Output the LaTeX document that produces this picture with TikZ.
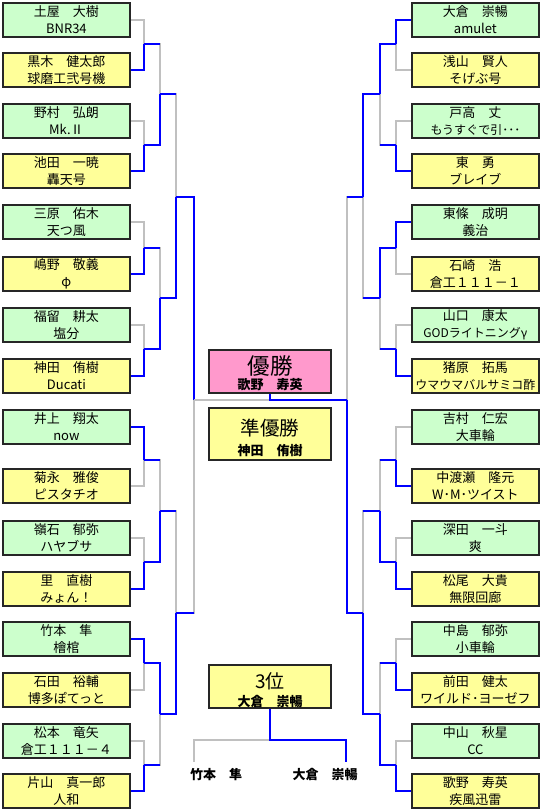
\documentclass[tikz,border=0pt]{standalone}
\usepackage{fontspec}
\setmainfont{Noto Sans CJK JP}
\usepackage{tikz}
\usetikzlibrary{positioning,calc,backgrounds}
\usepackage{xcolor}
\definecolor{boxgreen}{RGB}{204,255,204}
\definecolor{boxyellow}{RGB}{255,255,153}
\definecolor{boxpink}{RGB}{255,153,204}
\definecolor{linegray}{RGB}{192,192,192}
\definecolor{lineblue}{RGB}{0,0,255}
\newcommand{\longteam}[1]{{\fontsize{12}{17}\selectfont #1}}

\begin{document}
\begin{tikzpicture}[
    x=1pt, y=-1pt,
    entry/.style={rectangle, draw=black!85, line width=1.8pt, anchor=north west,
                  minimum width=127pt, minimum height=34pt, inner sep=0pt,
                  align=center, font=\fontsize{13}{17}\selectfont},
    podium/.style={rectangle, draw=black!85, line width=1.8pt, anchor=north,
                   minimum width=122pt, inner sep=0pt, align=center},
    win/.style={draw=lineblue, line width=2.4pt},
    lose/.style={draw=linegray, line width=2.4pt},
    pname/.style={font=\fontsize{13}{15}\selectfont\bfseries},
]
\useasboundingbox (0,0) rectangle (540,810);

% Left block
\foreach \n/\t/\p/\m/\c in {
    1/2/土屋　大樹/BNR34/boxgreen, 2/52/黒木　健太郎/球磨工弐号機/boxyellow,
    3/103/野村　弘朗/Mk.Ⅱ/boxgreen, 4/153/池田　一暁/轟天号/boxyellow,
    5/204/三原　佑木/天つ風/boxgreen, 6/256/嶋野　敬義/φ/boxyellow,
    7/307/福留　耕太/塩分/boxgreen, 8/358/神田　侑樹/Ducati/boxyellow,
    9/409/井上　翔太/now/boxgreen, 10/468/菊永　雅俊/ピスタチオ/boxyellow,
    11/520/嶺石　郁弥/ハヤブサ/boxgreen, 12/571/里　直樹/みょん！/boxyellow,
    13/621/竹本　隼/檜棺/boxgreen, 14/672/石田　裕輔/博多ぽてっと/boxyellow,
    15/723/松本　竜矢/倉工１１１－４/boxgreen, 16/773/片山　真一郎/人和/boxyellow} {
    \node[entry, fill=\c] (l\n) at (2,\t) {\p\\\m};
}

% Right block
\foreach \n/\t/\p/\m/\c in {
    1/2/大倉　崇暢/amulet/boxgreen, 2/52/浅山　賢人/そげぶ号/boxyellow,
    3/103/戸高　丈/\longteam{もうすぐで引･･･}/boxgreen, 4/153/東　勇/ブレイブ/boxyellow,
    5/204/東條　成明/義治/boxgreen, 6/256/石崎　浩/倉工１１１－１/boxyellow,
    7/307/山口　康太/\longteam{GODライトニングγ}/boxgreen,
    8/358/猪原　拓馬/\longteam{ウマウマバルサミコ酢}/boxyellow,
    9/409/吉村　仁宏/大車輪/boxgreen, 10/468/中渡瀬　隆元/W･M･ツイスト/boxyellow,
    11/520/深田　一斗/爽/boxgreen, 12/571/松尾　大貴/無限回廊/boxyellow,
    13/621/中島　郁弥/小車輪/boxgreen, 14/672/前田　健太/ワイルド･ヨーゼフ/boxyellow,
    15/723/中山　秋星/CC/boxgreen, 16/773/歌野　寿英/疾風迅雷/boxyellow} {
    \node[entry, fill=\c] (r\n) at (411,\t) {\p\\\m};
}

% Podium
\node[podium, fill=boxpink, minimum height=43pt] (yusho) at (270,349)
    {\fontsize{22.5}{22.5}\selectfont\rule{0pt}{22pt}優勝\\[1pt]\fontsize{13}{13}\selectfont\bfseries 歌野　寿英};
\node[podium, fill=boxyellow, minimum height=52pt] (junyusho) at (270,407)
    {\fontsize{19.5}{19.5}\selectfont\rule{0pt}{25pt}準優勝\\[6pt]\fontsize{13}{13}\selectfont\bfseries 神田　侑樹};
\node[podium, fill=boxyellow, minimum height=43pt] (sani) at (270,664)
    {\fontsize{19}{19}\selectfont\rule{0pt}{23pt}3位\\[4pt]\fontsize{13}{13}\selectfont\bfseries 大倉　崇暢};
\node[pname] (take) at (216,775) {竹本　隼};
\node[pname] (okura) at (325,775) {大倉　崇暢};

% Junctions
\foreach \k/\y in {1/44, 2/145, 3/248, 4/349, 5/460, 6/562, 7/663, 8/765} {
    \coordinate (la\k) at (144,\y);
    \coordinate (ra\k) at (396,\y);
}
\foreach \k/\y in {1/94, 2/298, 3/511, 4/714} {
    \coordinate (lb\k) at (160,\y);
    \coordinate (rb\k) at (380,\y);
}
\foreach \k/\y in {1/197, 2/613} {
    \coordinate (lc\k) at (176,\y);
    \coordinate (rc\k) at (363,\y);
}
\coordinate (ld) at (194,400);
\coordinate (rd) at (347,400);
\coordinate (m3) at (270,740);
\coordinate (t1) at (194,762);
\coordinate (t2) at (346,762);

\begin{scope}[on background layer, line cap=rect]
% first round
\foreach \c/\p in {l1/la1, l3/la2, l5/la3, l7/la4, l10/la5, l11/la6, l14/la7, l15/la8}
    \draw[lose] (\c.east) -| (\p);
\foreach \c/\p in {r2/ra1, r3/ra2, r6/ra3, r7/ra4, r9/ra5, r11/ra6, r13/ra7, r15/ra8}
    \draw[lose] (\c.west) -| (\p);
\foreach \c/\p in {l2/la1, l4/la2, l6/la3, l8/la4, l9/la5, l12/la6, l13/la7, l16/la8}
    \draw[win] (\c.east) -| (\p);
\foreach \c/\p in {r1/ra1, r4/ra2, r5/ra3, r8/ra4, r10/ra5, r12/ra6, r14/ra7, r16/ra8}
    \draw[win] (\c.west) -| (\p);

% later rounds
\foreach \c/\p in {la1/lb1, la3/lb2, la5/lb3, la8/lb4, lb1/lc1, lb3/lc2, lc2/ld,
                   ra2/rb1, ra4/rb2, ra5/rb3, ra7/rb4, rb2/rc1, rb3/rc2, rc1/rd} {
    \draw[lose] (\c) -| (\p);
    \draw[win] (\c) -- (\c -| \p);
}
\foreach \c/\p in {la2/lb1, la4/lb2, la6/lb3, la7/lb4, lb2/lc1, lb4/lc2, lc1/ld,
                   ra1/rb1, ra3/rb2, ra6/rb3, ra8/rb4, rb1/rc1, rb4/rc2, rc2/rd}
    \draw[win] (\c) -| (\p);

% final and third place
\draw[lose] (ld) -- (ld -| yusho.south);
\draw[win] (rd) -| (yusho.south);
\draw[lose] (m3) -| (t1);
\draw[win] (sani.south) -- (m3) -| (t2);
\end{scope}
\end{tikzpicture}
\end{document}
